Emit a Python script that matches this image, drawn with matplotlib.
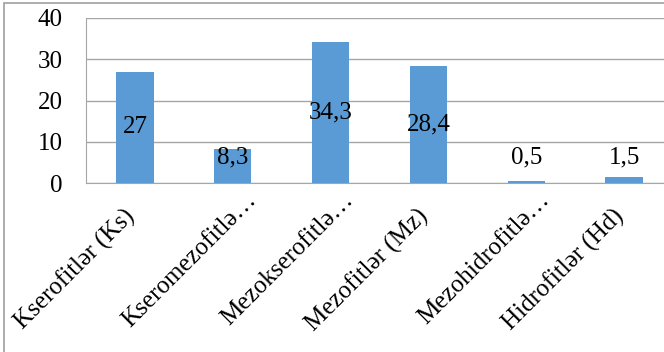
import matplotlib.pyplot as plt
import matplotlib.transforms as mtransforms
from matplotlib.patches import Rectangle

categories = ['Kserofitlər (Ks)', 'Kseromezofitlə…', 'Mezokserofitlə…',
              'Mezofitlər (Mz)', 'Mezohidrofitlə…', 'Hidrofitlər (Hd)']
values = [27, 8.3, 34.3, 28.4, 0.5, 1.5]
labels = ['27', '8,3', '34,3', '28,4', '0,5', '1,5']
yticks = [0, 10, 20, 30, 40]

plt.rcParams['font.family'] = ['Liberation Serif', 'DejaVu Serif']

W, H = 664, 352
fig = plt.figure(figsize=(W / 100, H / 100), dpi=100)

# outer chart border (cut off on the right and bottom like the source)
fig.patches.append(Rectangle((4 / W, -0.1), 1.2, 1.1 - 3 / H, transform=fig.transFigure,
                             fill=False, edgecolor='#a0a0a0', lw=1.2))

ax = fig.add_axes([86 / W, (H - 183) / H, (673 - 86) / W, (183 - 18) / H])
x = list(range(len(values)))
ax.bar(x, values, width=0.38, color='#5b9bd5', zorder=3)

ax.set_ylim(0, 40)
ax.set_xlim(-0.5, len(values) - 0.5)
ax.set_yticks(yticks)
ax.set_yticklabels([str(t) for t in yticks], fontsize=18)
ax.tick_params(axis='y', length=0, pad=17)
ax.set_xticks(x)
ax.set_xticklabels([])
ax.tick_params(axis='x', length=0)
ax.yaxis.grid(True, color='#a6a6a6', lw=1, zorder=0)

for s in ['top', 'right']:
    ax.spines[s].set_visible(False)
ax.spines['left'].set_color('#a6a6a6')
ax.spines['bottom'].set_color('#a6a6a6')

# rotated category labels, anchored at the end of the baseline
for i, cat in enumerate(categories):
    if cat.endswith('…'):
        dx, dy = 24, 18
    else:
        dx, dy = 1, 34
    off = mtransforms.ScaledTranslation(dx / 100, -dy / 100, fig.dpi_scale_trans)
    ax.text(i, 0, cat, transform=ax.get_xaxis_transform() + off, fontsize=18,
            rotation=45, rotation_mode='anchor', ha='right', va='baseline')

for i, (v, lab) in enumerate(zip(values, labels)):
    ax.text(i, max(v / 2, 6.3), lab, ha='center', va='center', fontsize=18, zorder=4)

fig.savefig('out.png', dpi=100)
